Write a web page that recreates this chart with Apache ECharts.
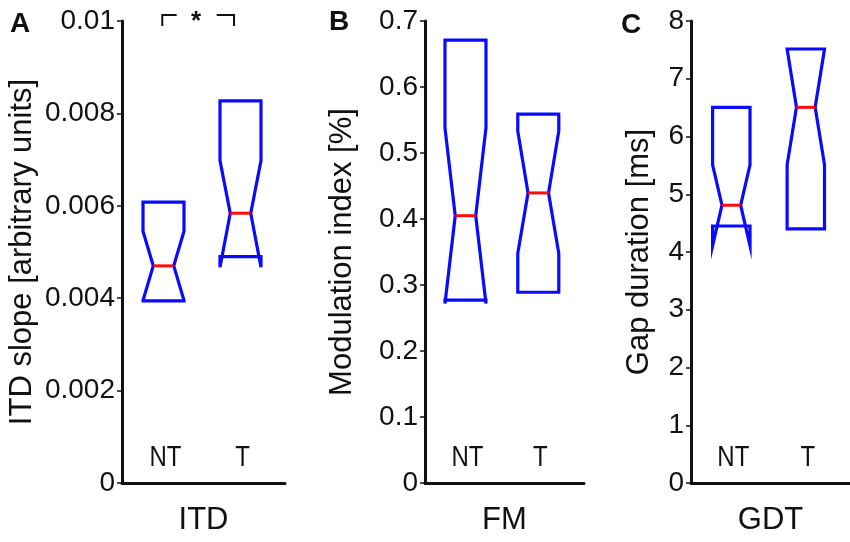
<!DOCTYPE html>
<html>
<head>
<meta charset="utf-8">
<script src="https://cdn.jsdelivr.net/npm/echarts@6/dist/echarts.min.js"></script>
<style>
html,body{margin:0;padding:0;background:#fff;}
#chart{width:850px;height:542px;}
</style>
</head>
<body>
<div id="chart"></div>
<script>
// ---- data ----
const categories = ['NT', 'T'];
const catPos = [1, 2];

// Panel A: ITD slope
const itdQ1 = [0.00394, 0.00490];
const itdNotchLo = [0.00395, 0.00467];
const itdMedian = [0.00470, 0.00584];
const itdNotchHi = [0.00545, 0.00698];
const itdQ3 = [0.00608, 0.00827];

// Panel B: FM modulation index
const fmQ1 = [0.277, 0.289];
const fmNotchLo = [0.272, 0.348];
const fmMedian = [0.405, 0.4395];
const fmNotchHi = [0.538, 0.533];
const fmQ3 = [0.671, 0.559];

// Panel C: gap duration
const gdtQ1 = [4.45, 4.40];
const gdtNotchLo = [4.11, 5.51];
const gdtMedian = [4.81, 6.505];
const gdtNotchHi = [5.51, 7.515];
const gdtQ3 = [6.505, 7.515];

// significance bracket (panel A), data coords
const sigX = [0.984, 1.171, 1.691, 1.916];
const sigY = [0.00989, 0.01013];
const sigStarPos = [1.422, 0.00998];
const sigText = '*';

const panelLetters = ['A', 'B', 'C'];
const yNames = ['ITD slope [arbitrary units]', 'Modulation index [%]', 'Gap duration [ms]'];
const xNames = ['ITD', 'FM', 'GDT'];

// ---- helpers ----
function rows(q1, lo, med, hi, q3) {
  return catPos.map((x, i) => [x, q1[i], lo[i], med[i], hi[i], q3[i], i]);
}
const BLUE = '#0a0aff';
const RED = '#ff0a0a';
const INK = '#111';
const FONT = '"Liberation Sans", Arial, sans-serif';

function boxRender(hw) {
  return function (params, api) {
    const x = api.value(0);
    const Y = v => api.coord([x, v])[1];
    const cx = api.coord([x, api.value(3)])[0];
    const q1 = Y(api.value(1)), lo = Y(api.value(2)), md = Y(api.value(3)), hi = Y(api.value(4)), q3 = Y(api.value(5));
    const base = Y(0);
    const pts = [
      [cx - hw, q3], [cx - hw, hi], [cx - hw / 2, md], [cx - hw, lo], [cx - hw, q1],
      [cx + hw, q1], [cx + hw, lo], [cx + hw / 2, md], [cx + hw, hi], [cx + hw, q3]
    ];
    return {
      type: 'group',
      children: [
        { type: 'polygon', shape: { points: pts }, style: { fill: 'transparent', stroke: BLUE, lineWidth: 3.2, lineJoin: 'miter' } },
        { type: 'line', shape: { x1: cx - hw / 2, y1: md, x2: cx + hw / 2, y2: md }, style: { stroke: RED, lineWidth: 3 } },
        { type: 'text', x: cx + 2, y: base - 10, scaleX: 0.8, scaleY: 1,
          style: { text: categories[api.value(6)], fontFamily: FONT, fontSize: 30, fill: INK, align: 'center', verticalAlign: 'bottom' } }
      ]
    };
  };
}

const grids = [
  { left: 122, top: 21, width: 163, bottom: 59 },
  { left: 425, top: 21, width: 159, bottom: 59 },
  { left: 691, top: 21, width: 159, bottom: 59 }
];
const xRanges = [[0.461, 2.578], [0.444, 2.628], [0.459, 2.593]];
const yRanges = [[0, 0.01, 0.002], [0, 0.7, 0.1], [0, 8, 1]];
const yGaps = [84, 67, 36];
const halfW = [20.5, 20.5, 18.7];

const axisLineStyle = { show: true, lineStyle: { color: INK, width: 3 } };

const option = {
  animation: false,
  backgroundColor: '#fff',
  grid: grids,
  xAxis: grids.map((g, i) => ({
    type: 'value', gridIndex: i, min: xRanges[i][0], max: xRanges[i][1],
    axisLine: axisLineStyle, axisTick: { show: false }, splitLine: { show: false },
    axisLabel: { show: false },
    name: xNames[i], nameLocation: 'middle', nameGap: 22,
    nameTextStyle: { fontFamily: FONT, fontSize: 31, color: INK }
  })),
  yAxis: grids.map((g, i) => ({
    type: 'value', gridIndex: i, min: yRanges[i][0], max: yRanges[i][1], interval: yRanges[i][2],
    axisLine: axisLineStyle,
    axisTick: { show: true, length: 5, lineStyle: { color: INK, width: 1.5 } },
    splitLine: { show: false },
    axisLabel: { margin: 7, fontFamily: FONT, fontSize: 28, color: INK },
    name: yNames[i], nameLocation: 'middle', nameGap: yGaps[i],
    nameTextStyle: { fontFamily: FONT, fontSize: 31, color: INK }
  })),
  series: [
    { type: 'custom', xAxisIndex: 0, yAxisIndex: 0, renderItem: boxRender(halfW[0]), data: rows(itdQ1, itdNotchLo, itdMedian, itdNotchHi, itdQ3), encode: { x: 0, y: [1, 2, 3, 4, 5] } },
    { type: 'custom', xAxisIndex: 1, yAxisIndex: 1, renderItem: boxRender(halfW[1]), data: rows(fmQ1, fmNotchLo, fmMedian, fmNotchHi, fmQ3), encode: { x: 0, y: [1, 2, 3, 4, 5] } },
    { type: 'custom', xAxisIndex: 2, yAxisIndex: 2, renderItem: boxRender(halfW[2]), data: rows(gdtQ1, gdtNotchLo, gdtMedian, gdtNotchHi, gdtQ3), encode: { x: 0, y: [1, 2, 3, 4, 5] } },
    {
      type: 'custom', xAxisIndex: 0, yAxisIndex: 0, clip: false, silent: true,
      data: [[sigX[0], sigY[0]]],
      renderItem: function (params, api) {
        const P = (x, y) => api.coord([x, y]);
        const a = P(sigX[0], sigY[0]), b = P(sigX[0], sigY[1]), c = P(sigX[1], sigY[1]);
        const d = P(sigX[2], sigY[1]), e = P(sigX[3], sigY[1]), f = P(sigX[3], sigY[0]);
        const s = P(sigStarPos[0], sigStarPos[1]);
        const st = { stroke: INK, lineWidth: 2, fill: 'transparent' };
        return {
          type: 'group', children: [
            { type: 'polyline', shape: { points: [a, b, c] }, style: st },
            { type: 'polyline', shape: { points: [d, e, f] }, style: st },
            { type: 'text', x: s[0], y: s[1], style: { text: sigText, fontFamily: FONT, fontSize: 26, fontWeight: 'bold', fill: INK, align: 'center', verticalAlign: 'middle' } }
          ]
        };
      }
    }
  ],
  graphic: [
    { type: 'text', left: 10, top: 10, style: { text: panelLetters[0], fontFamily: FONT, fontSize: 28, fontWeight: 'bold', fill: INK } },
    { type: 'text', left: 329, top: 8, style: { text: panelLetters[1], fontFamily: FONT, fontSize: 28, fontWeight: 'bold', fill: INK } },
    { type: 'text', left: 621, top: 11, style: { text: panelLetters[2], fontFamily: FONT, fontSize: 28, fontWeight: 'bold', fill: INK } }
  ]
};

const chart = echarts.init(document.getElementById('chart'), null, { renderer: 'canvas' });
chart.setOption(option);
</script>
</body>
</html>
